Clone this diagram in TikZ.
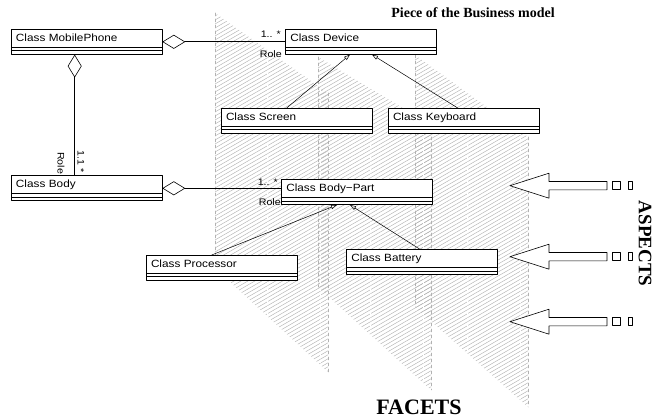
\documentclass[tikz,border=0pt]{standalone}
\usepackage{fontspec}
\setmainfont{Liberation Serif}
\newfontfamily\classfont[FakeStretch=1.12]{Liberation Sans}
\usetikzlibrary{arrows.meta}
\begin{document}
\begin{tikzpicture}[x=1pt, y=-1pt, line cap=round, line join=round, line width=0.6pt,
		umlclass/.style={draw, fill=white, anchor=north west, inner xsep=5pt, inner ysep=0pt,
			minimum width=151pt, minimum height=25pt, text width=141pt, align=left,
			text height=12pt, text depth=13pt, font=\classfont\fontsize{10.5}{12}\selectfont,
			path picture={\draw ([yshift=-18pt]path picture bounding box.north west)--([yshift=-18pt]path picture bounding box.north east)
				([yshift=-21.5pt]path picture bounding box.north west)--([yshift=-21.5pt]path picture bounding box.north east);}},
		aggr/.style={{Diamond[open,length=23pt,width=14pt]}-},
		inh/.style={-{Triangle[open,length=6pt,width=4pt]}, line width=0.5pt},
		rolelabel/.style={font=\classfont\fontsize{9.5}{11}\selectfont, inner sep=0pt},
		hatch/.style={gray!60, line width=0.45pt},
		title/.style={font=\bfseries, inner sep=0pt}]
			\def\fw{113}
			\useasboundingbox (0,0) rectangle (654,419);
			\foreach \l/\ta/\tb/\ba/\bb in {415/55/137/307/407, 318/57/125/287/390, 215/13/93/268/372}{
				\begin{scope}
					\clip (\l,\ta)--(\l+\fw,\tb)--(\l+\fw,\bb)--(\l,\ba)--cycle;
					\foreach \k in {0,4,...,500}
						\draw[hatch] (\l,\k)--++(\fw,-65.2);
					\draw[white, dashed, line width=0.8pt] (\l+52,0)--(\l+52,419) (\l+105,0)--(\l+105,419);
				\end{scope}
				\draw[gray!60, dashed, line width=0.5pt] (\l,\ta)--(\l,\ba) (\l+\fw,\tb)--(\l+\fw,\bb);
			}
			\foreach \y in {185.7,256.7,321.7}{
				\draw[fill=white] (510,\y)--(549,\y-12.5)--(549,\y-4.2)--(607,\y-4.2)--(607,\y+4.2)--(549,\y+4.2)--(549,\y+12.5)--cycle;
				\draw (612.7,\y-4) rectangle (620.7,\y+4) (628,\y-4) rectangle (632,\y+4);
			}
			\node[umlclass] (mobile) at (10.7,29) {Class MobilePhone};
			\node[umlclass] (device) at (285,29) {Class Device};
			\node[umlclass] (screen) at (220.7,108) {Class Screen};
			\node[umlclass] (keyboard) at (387.7,108) {Class Keyboard};
			\node[umlclass] (body) at (10.7,175.5) {Class Body};
			\node[umlclass] (bodypart) at (281,179.3) {Class Body−Part};
			\node[umlclass] (processor) at (145.7,255) {Class Processor};
			\node[umlclass] (battery) at (346,249.3) {Class Battery};
			\coordinate (dv-in) at (mobile.east -| device.west);
			\coordinate (bp-in) at (body.east -| bodypart.west);
			\coordinate (md-top) at ([xshift=64pt]mobile.south west);
			\coordinate (md-end) at ([xshift=64pt]body.north west);
			\draw[aggr] (mobile.east)--(dv-in);
			\draw[aggr] (body.east)--(bp-in);
			\draw[aggr] (md-top)--(md-end);
			\draw[inh] ([xshift=66pt]screen.north west)--([xshift=65pt]device.south west);
			\draw[inh] ([xshift=70pt]keyboard.north west)--([xshift=87pt]device.south west);
			\draw[inh] ([xshift=66pt]processor.north west)--([xshift=56pt]bodypart.south west);
			\draw[inh] ([xshift=74pt]battery.north west)--([xshift=69pt]bodypart.south west);
			\node[rolelabel, anchor=base east] (dv-mult) at ([xshift=-4pt,yshift=4pt]dv-in) {1.. *};
			\node[rolelabel, anchor=base east] (dv-role) at ([xshift=-3pt,yshift=-15.5pt]dv-in) {Role};
			\node[rolelabel, anchor=base east] (bp-mult) at ([xshift=-3pt,yshift=3pt]bp-in) {1.. *};
			\node[rolelabel, anchor=base east] (bp-role) at ([xshift=0pt,yshift=-17pt]bp-in) {Role};
			\node[rolelabel, anchor=base east, rotate=-90] (md-mult) at ([xshift=3pt,yshift=2.5pt]md-end) {1.1 *};
			\node[rolelabel, anchor=base east, rotate=-90] (md-role) at ([xshift=-17pt,yshift=1pt]md-end) {Role};
			\node[title, font=\bfseries\fontsize{14}{16}\selectfont] (bmodel) at (473,12.5) {Piece of the Business model};
			\node[title, font=\bfseries\fontsize{22}{24}\selectfont] (facets) at (419,407.5) {FACETS};
			\node[title, font=\bfseries\fontsize{19}{21}\selectfont, rotate=-90] (aspects) at (645,243.5) {ASPECTS};
		\end{tikzpicture}
\end{document}
